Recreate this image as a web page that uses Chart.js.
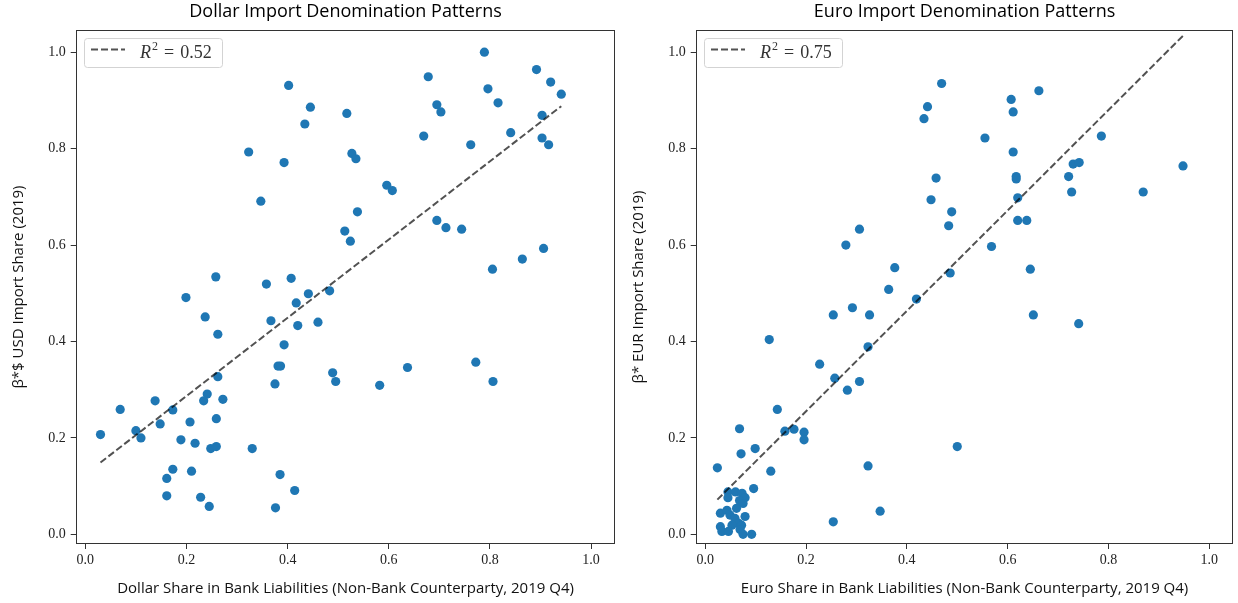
<!DOCTYPE html>
<html>
<head>
<meta charset="utf-8">
<script src="https://cdn.jsdelivr.net/npm/chart.js@4.4.0/dist/chart.umd.min.js"></script>
<style>
  html, body { margin: 0; padding: 0; background: #fff; }
  #wrap { position: relative; width: 1238px; height: 603px; }
  canvas { position: absolute; top: 0; }
</style>
</head>
<body>
<div id="wrap">
  <canvas id="dollarChart" width="620" height="603" style="left:0"></canvas>
  <canvas id="euroChart" width="618" height="603" style="left:620px"></canvas>
</div>
<script>
// dollar panel: x = dollar share in bank liabilities, y = USD import share
const dollarShare = [
    0.402, 0.445, 0.434, 0.323, 0.393, 0.347, 0.258, 0.358, 0.407, 0.789,
    0.678, 0.892, 0.920, 0.941, 0.796, 0.816, 0.517, 0.695, 0.703, 0.903,
    0.841, 0.669, 0.903, 0.916, 0.762, 0.527, 0.535, 0.596, 0.607, 0.538,
    0.513, 0.524, 0.695, 0.713, 0.744, 0.906, 0.864, 0.805, 0.199, 0.237,
    0.441, 0.417, 0.483, 0.367, 0.420, 0.460, 0.262, 0.393, 0.381, 0.386,
    0.489, 0.495, 0.375, 0.262, 0.138, 0.069, 0.173, 0.241, 0.234, 0.272,
    0.259, 0.148, 0.207, 0.030, 0.100, 0.110, 0.189, 0.217, 0.248, 0.259,
    0.330, 0.173, 0.161, 0.210, 0.385, 0.161, 0.228, 0.414, 0.245, 0.376,
    0.582, 0.637, 0.772, 0.806
];
const usdImportShare = [
    0.931, 0.886, 0.851, 0.793, 0.771, 0.691, 0.534, 0.519, 0.531, 1.000,
    0.949, 0.964, 0.938, 0.913, 0.924, 0.895, 0.873, 0.891, 0.876, 0.869,
    0.833, 0.826, 0.822, 0.808, 0.808, 0.790, 0.779, 0.724, 0.713, 0.669,
    0.629, 0.608, 0.651, 0.636, 0.633, 0.593, 0.571, 0.550, 0.491, 0.451,
    0.499, 0.480, 0.505, 0.443, 0.433, 0.440, 0.415, 0.393, 0.349, 0.349,
    0.335, 0.317, 0.312, 0.327, 0.277, 0.259, 0.258, 0.291, 0.277, 0.280,
    0.240, 0.229, 0.233, 0.207, 0.215, 0.200, 0.196, 0.189, 0.178, 0.182,
    0.178, 0.135, 0.116, 0.131, 0.124, 0.080, 0.077, 0.091, 0.058, 0.055,
    0.309, 0.346, 0.357, 0.317
];
const dollarFitX = [0.030, 0.941];
const dollarFitY = [0.149, 0.888];

// euro panel
const euroShare = [
    0.469, 0.441, 0.434, 0.458, 0.448, 0.489, 0.483, 0.279, 0.306, 0.376, 0.364, 0.486,
    0.662, 0.607, 0.611, 0.555, 0.786, 0.611, 0.948, 0.730, 0.742, 0.617,
    0.617, 0.721, 0.727, 0.869, 0.620, 0.620, 0.638, 0.568, 0.645,
    0.651, 0.741, 0.500,
    0.419, 0.254, 0.292, 0.326, 0.127, 0.323, 0.227, 0.257, 0.306, 0.282,
    0.143, 0.068, 0.158, 0.176, 0.196, 0.196, 0.099, 0.071, 0.024, 0.130,
    0.323, 0.096, 0.254, 0.347,
    0.045, 0.060, 0.073, 0.079, 0.068, 0.075, 0.045, 0.030, 0.043, 0.049,
    0.062, 0.059, 0.079, 0.066, 0.030, 0.053, 0.072, 0.033, 0.046, 0.069,
    0.075, 0.092
];
const eurImportShare = [
    0.935, 0.887, 0.862, 0.739, 0.694, 0.669, 0.640, 0.600, 0.633, 0.553, 0.508, 0.542,
    0.920, 0.902, 0.876, 0.822, 0.826, 0.793, 0.764, 0.768, 0.771, 0.742,
    0.737, 0.742, 0.710, 0.710, 0.698, 0.651, 0.651, 0.597, 0.550,
    0.455, 0.437, 0.182,
    0.488, 0.455, 0.470, 0.455, 0.404, 0.389, 0.353, 0.324, 0.317, 0.299,
    0.259, 0.219, 0.214, 0.218, 0.212, 0.196, 0.178, 0.167, 0.138, 0.131,
    0.142, 0.095, 0.026, 0.048,
    0.088, 0.088, 0.085, 0.076, 0.070, 0.064, 0.076, 0.044, 0.050, 0.040,
    0.054, 0.033, 0.037, 0.023, 0.016, 0.019, 0.019, 0.006, 0.006, 0.010,
    0.000, 0.000
];
const euroFitX = [0.024, 0.948];
const euroFitY = [0.072, 1.034];

const axisTicks = [0.0, 0.2, 0.4, 0.6, 0.8, 1.0];

const dotColor = "#1f77b4";
const fitColor = "rgba(0,0,0,0.68)";
const serif = "'Liberation Serif', serif";
const sans = "'Open Sans', 'DejaVu Sans', sans-serif";

// box around the plot area, like matplotlib spines
const frame = {
    id: "frame",
    afterDraw(chart) {
        const { ctx, chartArea: a } = chart;
        ctx.save();
        ctx.strokeStyle = "#333";
        ctx.lineWidth = 1;
        const l = Math.round(a.left) + 0.5, t = Math.round(a.top) + 0.5;
        const r = Math.round(a.right) - 0.5, b = Math.round(a.bottom) - 0.5;
        ctx.strokeRect(l, t, r - l, b - t);
        ctx.restore();
    },
};

// legend inside the upper left corner
const legendBox = {
    id: "legendBox",
    afterDraw(chart, args, opts) {
        const { ctx, chartArea } = chart;
        const x = Math.round(chartArea.left) + 8, y = Math.round(chartArea.top) + 8;
        ctx.save();
        ctx.fillStyle = "rgba(255,255,255,0.8)";
        ctx.strokeStyle = "#d3d3d3";
        ctx.lineWidth = 1;
        ctx.beginPath();
        ctx.roundRect(x + 0.5, y + 0.5, 138, 29, 3);
        ctx.fill();
        ctx.stroke();

        ctx.setLineDash([7, 3]);
        ctx.strokeStyle = fitColor;
        ctx.lineWidth = 2;
        ctx.beginPath();
        ctx.moveTo(x + 7, y + 11.5);
        ctx.lineTo(x + 41, y + 11.5);
        ctx.stroke();
        ctx.setLineDash([]);

        ctx.fillStyle = "#333";
        ctx.textBaseline = "alphabetic";
        const base = y + 19.5;
        let tx = x + 56;
        ctx.font = "italic 18px " + serif;
        ctx.fillText("R", tx, base);
        tx += ctx.measureText("R").width + 1;
        ctx.font = "12px " + serif;
        ctx.fillText("2", tx, base - 8);
        tx += ctx.measureText("2").width + 6;
        ctx.font = "18px " + serif;
        ctx.fillText("=", tx, base);
        tx += ctx.measureText("=").width + 6;
        ctx.fillText(opts.value, tx, base);
        ctx.restore();
    },
};

function makeChart(id, title, xs, ys, fitX, fitY, xLabel, yLabel, r2, padRight) {
    const points = xs.map((x, i) => ({ x: x, y: ys[i] }));
    const fit = fitX.map((x, i) => ({ x: x, y: fitY[i] }));

    const tickStyle = {
        color: "#222",
        font: { family: serif, size: 14 },
        callback: (v) => v.toFixed(1),
    };

    new Chart(document.getElementById(id), {
        type: "scatter",
        data: {
            datasets: [
                {
                    label: "fit",
                    data: fit,
                    showLine: true,
                    borderColor: fitColor,
                    borderWidth: 2,
                    borderDash: [7, 3],
                    pointRadius: 0,
                    fill: false,
                    order: 0,
                },
                {
                    label: "countries",
                    data: points,
                    backgroundColor: dotColor,
                    borderWidth: 0,
                    pointRadius: 4.6,
                    order: 1,
                },
            ],
        },
        options: {
            responsive: false,
            animation: false,
            devicePixelRatio: 1,
            layout: { padding: { left: 0, top: 0, right: padRight, bottom: 0 } },
            scales: {
                x: {
                    type: "linear",
                    min: -0.019,
                    max: 1.048,
                    afterBuildTicks: (s) => { s.ticks = axisTicks.map((v) => ({ value: v })); },
                    afterFit: (s) => { s.height = 59; },
                    grid: { drawOnChartArea: false, tickLength: 5, tickColor: "#333" },
                    border: { display: false },
                    ticks: { ...tickStyle, padding: 3, maxRotation: 0 },
                    title: {
                        display: true,
                        text: xLabel,
                        color: "#111",
                        font: { family: sans, size: 15 },
                        padding: { top: 0, bottom: 5 },
                    },
                },
                y: {
                    type: "linear",
                    min: -0.020,
                    max: 1.046,
                    afterBuildTicks: (s) => { s.ticks = axisTicks.map((v) => ({ value: v })); },
                    afterFit: (s) => { s.width = 75.7; },
                    grid: { drawOnChartArea: false, tickLength: 5, tickColor: "#333" },
                    border: { display: false },
                    ticks: { ...tickStyle, padding: 5 },
                    title: {
                        display: true,
                        text: yLabel,
                        color: "#111",
                        font: { family: sans, size: 15 },
                        padding: { top: 10, bottom: 0 },
                    },
                },
            },
            plugins: {
                legend: { display: false },
                tooltip: { enabled: false },
                title: {
                    display: true,
                    text: title,
                    fullSize: false,
                    color: "#000",
                    font: { family: sans, size: 18, weight: "normal" },
                    padding: { top: 1, bottom: 7.4 },
                },
                legendBox: { value: r2 },
            },
        },
        plugins: [frame, legendBox],
    });
}

makeChart("dollarChart", "Dollar Import Denomination Patterns", dollarShare, usdImportShare,
    dollarFitX, dollarFitY,
    "Dollar Share in Bank Liabilities (Non-Bank Counterparty, 2019 Q4)",
    "β*$ USD Import Share (2019)", "0.52", 2.7);

makeChart("euroChart", "Euro Import Denomination Patterns", euroShare, eurImportShare,
    euroFitX, euroFitY,
    "Euro Share in Bank Liabilities (Non-Bank Counterparty, 2019 Q4)",
    "β* EUR Import Share (2019)", "0.75", 0.7);
</script>
</body>
</html>
